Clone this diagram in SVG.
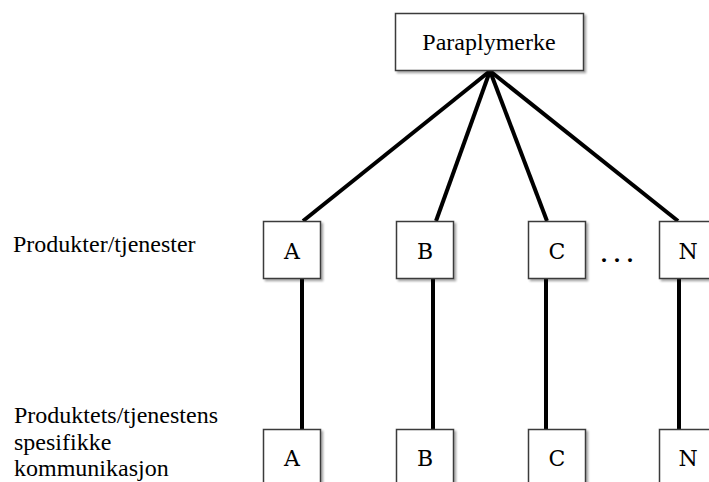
<svg xmlns="http://www.w3.org/2000/svg" width="709" height="482" viewBox="0 0 709 482">
<defs>
<filter id="sh" x="-10%" y="-10%" width="130%" height="130%">
<feGaussianBlur in="SourceAlpha" stdDeviation="1.2"/>
<feOffset dx="1.5" dy="2" result="b"/>
<feComponentTransfer><feFuncA type="linear" slope="0.35"/></feComponentTransfer>
<feMerge><feMergeNode/><feMergeNode in="SourceGraphic"/></feMerge>
</filter>
</defs>
<style>
.box{fill:#fff;stroke:#3a3a3a;stroke-width:1.5;filter:url(#sh)}
.t{font-family:"Liberation Serif","Times New Roman",serif;font-size:24px;fill:#000}
.l{font-family:"DejaVu Serif","Liberation Serif",serif;font-size:22px;fill:#000;text-anchor:middle}
.c{text-anchor:middle}
.ln{stroke:#000;stroke-width:4;fill:none;stroke-linecap:butt}
</style>
<rect width="709" height="482" fill="#fff"/>
<g id="connectors">
<line class="ln" x1="490" y1="71" x2="303" y2="221"/>
<line class="ln" x1="490" y1="71" x2="436" y2="221"/>
<line class="ln" x1="490" y1="71" x2="547" y2="221"/>
<line class="ln" x1="490" y1="71" x2="678" y2="221"/>
<line class="ln" x1="302" y1="278" x2="302" y2="429"/>
<line class="ln" x1="433" y1="278" x2="433" y2="429"/>
<line class="ln" x1="546" y1="278" x2="546" y2="429"/>
<line class="ln" x1="679" y1="278" x2="679" y2="429"/>
</g>
<g id="paraplymerke">
<rect class="box" x="395.5" y="13.5" width="188" height="57"/>
<text class="t c" x="489" y="50">Paraplymerke</text>
</g>
<g id="label-produkter"><text class="t" x="13" y="252">Produkter/tjenester</text></g>
<g id="label-kommunikasjon">
<text class="t" x="14" y="423">Produktets/tjenestens</text>
<text class="t" x="14" y="450">spesifikke</text>
<text class="t" x="14" y="476">kommunikasjon</text>
</g>
<g id="A1"><rect class="box" x="263.5" y="221.5" width="57" height="57"/><text class="l" x="292" y="259">A</text></g>
<g id="B1"><rect class="box" x="396.5" y="221.5" width="57" height="57"/><text class="l" x="425" y="259">B</text></g>
<g id="C1"><rect class="box" x="528.5" y="221.5" width="57" height="57"/><text class="l" x="557" y="259">C</text></g>
<g id="N1"><rect class="box" x="659.5" y="221.5" width="57" height="57"/><text class="l" x="688" y="259">N</text></g>
<g id="dots"><text class="t" x="601" y="262" style="font-weight:bold;letter-spacing:7px">...</text></g>
<g id="A2"><rect class="box" x="263.5" y="429.5" width="57" height="57"/><text class="l" x="292" y="466">A</text></g>
<g id="B2"><rect class="box" x="396.5" y="429.5" width="57" height="57"/><text class="l" x="425" y="466">B</text></g>
<g id="C2"><rect class="box" x="528.5" y="429.5" width="57" height="57"/><text class="l" x="557" y="466">C</text></g>
<g id="N2"><rect class="box" x="659.5" y="429.5" width="57" height="57"/><text class="l" x="688" y="466">N</text></g>
</svg>
